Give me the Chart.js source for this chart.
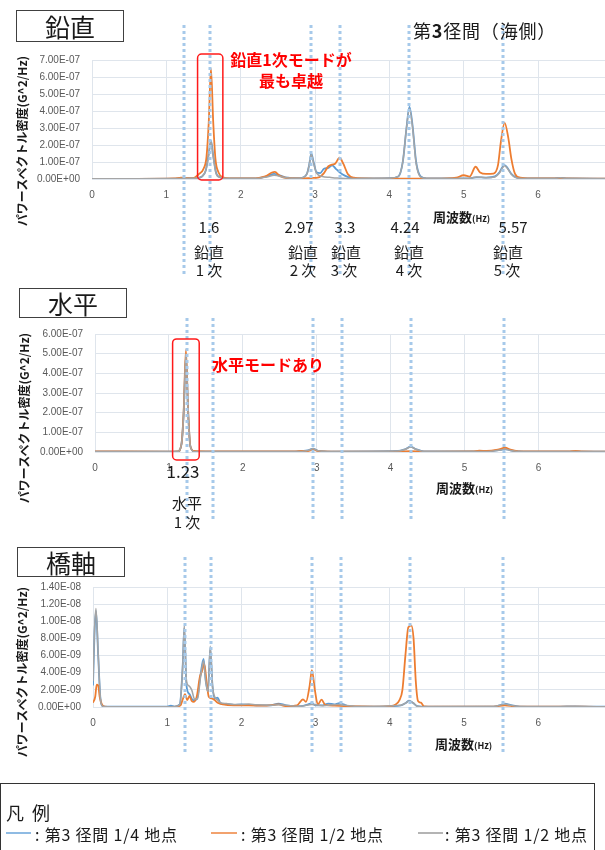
<!DOCTYPE html>
<html><head><meta charset="utf-8">
<script src="https://cdn.jsdelivr.net/npm/chart.js@4.4.0/dist/chart.umd.min.js"></script>
<style>
body{margin:0;background:#fff;width:605px;height:850px;overflow:hidden;position:relative;font-family:"Noto Sans CJK JP","Noto Sans",sans-serif;color:#1a1a1a;}
canvas{position:absolute;left:0;}
.t{position:absolute;white-space:nowrap;line-height:1;transform:translate(-50%,-50%);}
.tl{position:absolute;white-space:nowrap;line-height:1;transform:translateY(-50%);}
.box{position:absolute;border:1.5px solid #404040;box-sizing:border-box;display:flex;align-items:center;justify-content:center;font-size:25px;background:#fff;}
.yt{position:absolute;white-space:nowrap;font-weight:bold;font-size:12px;line-height:1;transform:translate(-50%,-50%) rotate(-90deg);}
.red{color:#ff0000;font-weight:bold;font-size:16px;}
.ml{font-size:15px;}
.xt{font-weight:bold;font-size:13px;}
.xt small{font-size:9px;}
.leg{position:absolute;left:0;top:783px;width:595px;height:80px;border:1.5px solid #333;box-sizing:border-box;}
.ln{position:absolute;height:2px;}
.lt{font-size:16px;letter-spacing:0.8px;}
</style></head><body>

<canvas id="c1" width="605" height="285" style="top:0px"></canvas>
<canvas id="c2" width="605" height="260" style="top:285px"></canvas>
<canvas id="c3" width="605" height="240" style="top:545px"></canvas>

<!-- panel titles -->
<div class="box" style="left:16px;top:10px;width:108px;height:32px;">鉛直</div>
<div class="box" style="left:19px;top:288px;width:108px;height:30px;">水平</div>
<div class="box" style="left:17px;top:547px;width:108px;height:30px;">橋軸</div>
<div class="tl" style="left:413px;top:30px;font-size:18px;letter-spacing:0.8px;">第<b>3</b>径間（海側）</div>

<!-- y-axis titles -->
<div class="yt" style="left:22px;top:141px;">パワースペクトル密度(G^2/Hz)</div>
<div class="yt" style="left:24px;top:418px;">パワースペクトル密度(G^2/Hz)</div>
<div class="yt" style="left:22px;top:672px;">パワースペクトル密度(G^2/Hz)</div>

<!-- x-axis titles -->
<div class="tl xt" style="left:433px;top:216px;">周波数<small>(Hz)</small></div>
<div class="tl xt" style="left:436px;top:487px;">周波数<small>(Hz)</small></div>
<div class="tl xt" style="left:435px;top:743px;">周波数<small>(Hz)</small></div>

<!-- red annotations -->
<div class="t red" style="left:291px;top:59px;">鉛直1次モードが</div>
<div class="t red" style="left:291px;top:80px;">最も卓越</div>
<div class="t red" style="left:268px;top:364px;">水平モードあり</div>

<!-- mode labels: vertical -->
<div class="t ml" style="left:209px;top:226px;">1.6</div>
<div class="t ml" style="left:299px;top:226px;">2.97</div>
<div class="t ml" style="left:345px;top:226px;">3.3</div>
<div class="t ml" style="left:405px;top:226px;">4.24</div>
<div class="t ml" style="left:513px;top:226px;">5.57</div>
<div class="t ml" style="left:209px;top:251px;">鉛直</div>
<div class="t ml" style="left:303px;top:251px;">鉛直</div>
<div class="t ml" style="left:346px;top:251px;">鉛直</div>
<div class="t ml" style="left:409px;top:251px;">鉛直</div>
<div class="t ml" style="left:508px;top:251px;">鉛直</div>
<div class="t ml" style="left:209px;top:269px;">1 次</div>
<div class="t ml" style="left:303px;top:269px;">2 次</div>
<div class="t ml" style="left:344px;top:269px;">3 次</div>
<div class="t ml" style="left:409px;top:269px;">4 次</div>
<div class="t ml" style="left:507px;top:269px;">5 次</div>
<!-- mode labels: horizontal -->
<div class="t" style="left:183px;top:470px;font-size:17px;">1.23</div>
<div class="t ml" style="left:187px;top:502px;">水平</div>
<div class="t ml" style="left:187px;top:521px;">1 次</div>

<!-- legend -->
<div class="leg"></div>
<div class="tl" style="left:6px;top:812px;font-size:18px;letter-spacing:2px;">凡 例</div>
<div class="ln" style="left:6px;top:832px;width:25px;background:#8fbbe3;"></div>
<div class="tl lt" style="left:35px;top:834px;">: 第3 径間 1/4 地点</div>
<div class="ln" style="left:211px;top:832px;width:26px;background:#f2a26e;"></div>
<div class="tl lt" style="left:241px;top:834px;">: 第3 径間 1/2 地点</div>
<div class="ln" style="left:418px;top:832px;width:25px;background:#b4b4b4;"></div>
<div class="tl lt" style="left:445px;top:834px;">: 第3 径間 1/2 地点</div>

<script>
// ---------- data ----------
const seriesNames = ['第3径間 1/4地点', '第3径間 1/2地点', '第3径間 1/2地点'];
const modeLineFreq = [1.24, 1.59, 2.95, 3.34, 4.27, 5.53];   // dotted mode lines (Hz)
const xTickLabels = [0, 1, 2, 3, 4, 5, 6];

// 鉛直 (unit 1e-7 G^2/Hz)
const vUnit = 1e-7;
const vBlueF = [0,0.6,1.1,1.25,1.4,1.48,1.53,1.57,1.60,1.63,1.67,1.72,1.8,2.2,2.35,2.45,2.6,2.8,2.89,2.92,2.95,2.98,3.02,3.07,3.12,3.18,3.23,3.28,3.33,3.4,3.5,3.7,4.0,4.12,4.18,4.23,4.27,4.31,4.36,4.42,4.5,4.9,5.1,5.17,5.3,5.42,5.48,5.52,5.55,5.59,5.64,5.7,5.8,6.2,6.3,6.4,6.9];
const vBlueV = [0.01,0.01,0.02,0.05,0.05,0.15,0.5,1.5,2.25,1.4,0.35,0.1,0.03,0.03,0.15,0.3,0.1,0.05,0.3,0.8,1.5,1.0,0.4,0.35,0.6,0.65,0.8,0.6,0.4,0.2,0.05,0.03,0.05,0.15,1.0,3.0,4.25,3.2,1.0,0.15,0.03,0.03,0.05,0.1,0.08,0.15,0.4,0.7,0.82,0.65,0.3,0.1,0.03,0.03,0.06,0.03,0.02];
const vOrangeF = [0,0.6,1.1,1.2,1.28,1.36,1.44,1.5,1.54,1.57,1.60,1.63,1.66,1.7,1.76,1.85,2.2,2.33,2.42,2.46,2.52,2.62,2.8,2.95,3.05,3.12,3.18,3.23,3.27,3.33,3.38,3.44,3.52,3.65,4.0,4.3,4.6,4.9,5.0,5.08,5.16,5.22,5.3,5.4,5.46,5.5,5.55,5.6,5.64,5.69,5.76,5.9,6.3,6.9];
const vOrangeV = [0.01,0.01,0.03,0.08,0.06,0.05,0.3,0.6,1.3,3.3,6.5,3.4,1.2,0.4,0.1,0.04,0.04,0.15,0.38,0.42,0.2,0.06,0.04,0.06,0.1,0.35,0.75,0.85,0.9,1.25,0.9,0.3,0.08,0.03,0.02,0.02,0.02,0.08,0.22,0.14,0.72,0.38,0.3,0.32,0.8,2.2,3.3,2.4,1.2,0.3,0.08,0.03,0.03,0.02];
const vGreyF = [0,0.6,1.1,1.25,1.4,1.48,1.53,1.57,1.60,1.63,1.67,1.72,1.8,2.2,2.35,2.45,2.6,2.8,2.89,2.92,2.95,2.98,3.02,3.1,3.2,3.3,3.5,3.7,4.0,4.12,4.18,4.23,4.27,4.31,4.36,4.42,4.5,4.9,5.1,5.17,5.3,5.42,5.48,5.52,5.55,5.59,5.64,5.7,5.8,6.2,6.3,6.4,6.9];
const vGreyV = [0.01,0.01,0.02,0.04,0.05,0.15,0.5,1.4,2.2,1.3,0.3,0.1,0.03,0.03,0.12,0.22,0.08,0.05,0.3,0.8,1.45,0.95,0.35,0.15,0.1,0.06,0.03,0.03,0.05,0.15,1.0,3.0,4.15,3.1,0.9,0.12,0.03,0.03,0.05,0.12,0.08,0.12,0.35,0.65,0.78,0.6,0.28,0.08,0.03,0.03,0.07,0.03,0.02];

// 水平 (unit 1e-7 G^2/Hz)
const hUnit = 1e-7;
const hBlueF = [0,1.0,1.12,1.17,1.2,1.23,1.26,1.29,1.34,1.5,2.7,2.88,2.95,3.02,3.2,4.1,4.2,4.27,4.34,4.45,5.3,5.48,5.55,5.62,5.8,6.9];
const hBlueV = [0.02,0.02,0.03,0.4,2.0,4.9,2.0,0.3,0.03,0.02,0.02,0.08,0.17,0.06,0.02,0.05,0.15,0.27,0.15,0.03,0.03,0.1,0.15,0.08,0.02,0.02];
const hOrangeF = [0,1.0,1.12,1.17,1.2,1.23,1.26,1.29,1.34,1.5,2.7,2.8,2.88,2.95,3.02,3.2,4.1,4.27,4.45,5.1,5.2,5.3,5.45,5.55,5.62,5.75,6.4,6.5,6.6,6.9];
const hOrangeV = [0.03,0.02,0.03,0.4,2.1,5.2,2.1,0.3,0.05,0.03,0.03,0.06,0.05,0.12,0.05,0.02,0.02,0.04,0.02,0.03,0.07,0.05,0.12,0.22,0.12,0.03,0.03,0.06,0.03,0.02];
const hGreyF = [0,1.0,1.12,1.17,1.2,1.23,1.26,1.29,1.34,1.5,2.7,2.88,2.95,3.02,3.2,4.1,4.2,4.27,4.34,4.45,5.3,5.48,5.55,5.62,5.8,6.9];
const hGreyV = [0.02,0.02,0.03,0.4,2.0,5.0,2.0,0.3,0.03,0.02,0.02,0.08,0.16,0.06,0.02,0.05,0.14,0.25,0.14,0.03,0.03,0.1,0.14,0.08,0.02,0.02];

// 橋軸 (unit 1e-9 G^2/Hz)
const aUnit = 1e-9;
const aBlueF = [0,0.02,0.04,0.07,0.1,0.13,0.2,1.0,1.05,1.1,1.17,1.21,1.23,1.26,1.3,1.35,1.4,1.45,1.49,1.52,1.55,1.58,1.61,1.64,1.68,1.72,1.8,1.9,2.0,2.2,2.4,2.5,2.6,2.8,2.9,2.95,3.0,3.1,3.17,3.25,3.32,3.38,3.45,3.8,4.15,4.22,4.26,4.31,4.37,4.5,5.4,5.5,5.55,5.62,5.75,6.0,6.3,6.5,6.9];
const aBlueV = [2.5,8.5,11.2,6.0,1.0,0.1,0.03,0.05,0.15,0.05,0.3,5.0,9.2,2.5,1.5,0.8,0.9,3.8,5.6,3.0,1.8,6.8,2.5,1.0,1.1,0.4,0.35,0.25,0.3,0.2,0.2,0.4,0.2,0.1,0.3,0.45,0.2,0.2,0.4,0.3,0.45,0.3,0.05,0.03,0.2,0.5,0.75,0.5,0.1,0.03,0.05,0.25,0.4,0.25,0.05,0.03,0.05,0.08,0.03];
const aOrangeF = [0,0.03,0.05,0.07,0.09,0.12,0.16,0.25,1.1,1.18,1.21,1.24,1.27,1.3,1.33,1.36,1.4,1.44,1.47,1.5,1.53,1.56,1.6,1.64,1.68,1.75,1.9,2.1,2.3,2.5,2.6,2.75,2.83,2.87,2.92,2.95,2.99,3.03,3.08,3.13,3.25,3.4,3.8,4.0,4.08,4.13,4.17,4.21,4.25,4.29,4.32,4.35,4.38,4.42,4.46,4.6,5.4,5.55,5.7,6.0,6.6,6.9];
const aOrangeV = [0.5,1.2,2.6,2.5,1.2,0.3,0.05,0.02,0.02,0.2,0.9,1.5,0.8,1.3,0.7,0.6,1.3,3.5,4.2,5.0,3.0,1.2,1.0,0.8,0.5,0.3,0.2,0.2,0.15,0.3,0.1,0.2,0.9,0.6,2.5,4.3,2.0,0.3,0.85,0.25,0.15,0.1,0.05,0.1,0.3,0.8,2.0,6.0,9.3,9.5,8.0,3.0,0.7,0.5,0.08,0.03,0.05,0.2,0.05,0.03,0.03,0.02];
const aGreyF = [0,0.02,0.04,0.07,0.1,0.13,0.2,1.0,1.1,1.17,1.21,1.23,1.26,1.29,1.33,1.37,1.41,1.45,1.49,1.52,1.55,1.58,1.61,1.64,1.68,1.72,1.8,1.9,2.0,2.1,2.2,2.4,2.5,2.6,2.8,2.95,3.1,3.3,3.4,3.6,4.15,4.22,4.26,4.31,4.37,4.5,5.4,5.5,5.55,5.62,5.75,6.0,6.5,6.9];
const aGreyV = [3.0,9.0,11.5,6.2,1.0,0.1,0.03,0.03,0.05,0.3,5.0,9.5,3.0,2.5,2.0,0.9,1.0,3.5,5.4,3.0,1.8,7.1,2.5,1.2,0.8,0.5,0.4,0.3,0.3,0.35,0.25,0.2,0.25,0.2,0.1,0.3,0.15,0.3,0.2,0.05,0.2,0.5,0.7,0.5,0.1,0.03,0.05,0.25,0.35,0.2,0.05,0.03,0.05,0.03];

// ---------- helpers ----------
const COLORS = ['#5b9bd5', '#ed7d31', '#a5a5a5'];
function pts(f, v) { return f.map((x, i) => ({ x: x, y: v[i] })); }
function sci(v) {
  if (Math.abs(v) < 1e-30) return '0.00E+00';
  let e = Math.floor(Math.log10(Math.abs(v)) + 1e-9);
  let m = v / Math.pow(10, e);
  if (Math.abs(m) >= 9.995) { m /= 10; e++; }
  const ae = Math.abs(e);
  return m.toFixed(2) + 'E' + (e < 0 ? '-' : '+') + (ae < 10 ? '0' : '') + ae;
}

const overlay = {
  id: 'overlay',
  afterDatasetsDraw(chart, args, o) {
    const ctx = chart.ctx, xs = chart.scales.x, ys = chart.scales.y;
    ctx.save();
    ctx.strokeStyle = '#a6c9ea';
    ctx.lineWidth = 3;
    ctx.setLineDash([3, 3]);
    for (const f of modeLineFreq) {
      const x = Math.round(xs.getPixelForValue(f));
      ctx.beginPath(); ctx.moveTo(x, o.lineTop); ctx.lineTo(x, o.lineBottom); ctx.stroke();
    }
    ctx.setLineDash([]);
    if (o.box) {
      const b = o.box;
      const x1 = xs.getPixelForValue(b.from), x2 = xs.getPixelForValue(b.to);
      const y1 = ys.getPixelForValue(b.top), y2 = chart.chartArea.bottom + b.below;
      ctx.strokeStyle = '#ff1a1a'; ctx.lineWidth = 1.5;
      ctx.beginPath(); ctx.roundRect(x1, y1, x2 - x1, y2 - y1, 4); ctx.stroke();
    }
    ctx.restore();
  }
};

function makeChart(id, s, unit, yMax, yStep, cfg) {
  const ds = s.map((d, i) => ({
    label: seriesNames[i],
    data: pts(d[0], d[1]),
    borderColor: COLORS[i],
    borderWidth: i === 2 ? 1.5 : 1.8,
    pointRadius: 0,
    fill: false,
    cubicInterpolationMode: 'monotone',
    order: 3 - i
  }));
  return new Chart(document.getElementById(id), {
    type: 'line',
    data: { datasets: ds },
    plugins: [overlay],
    options: {
      responsive: false, animation: false, events: [],
      layout: { padding: { top: cfg.top, bottom: cfg.bottom, left: 0, right: 0 } },
      plugins: { legend: { display: false }, tooltip: { enabled: false }, overlay: cfg.overlay },
      scales: {
        x: {
          type: 'linear', min: 0, max: 6.9,
          afterFit(sc) { sc.height = 25; },
          afterBuildTicks(sc) { sc.ticks = xTickLabels.map(v => ({ value: v })); },
          ticks: { includeBounds: false, padding: 10, color: '#595959', font: { family: 'Liberation Sans', size: 10 }, callback: v => String(v) },
          grid: { color: '#dfe5ec', drawTicks: false, lineWidth: 1 },
          border: { color: '#dfe5ec' }
        },
        y: {
          min: 0, max: yMax,
          afterFit(sc) { sc.width = cfg.left; },
          ticks: { stepSize: yStep, padding: 12, color: '#595959', font: { family: 'Liberation Sans', size: 10 }, callback: v => sci(v * unit) },
          grid: { color: '#dfe5ec', drawTicks: false, lineWidth: 1 },
          border: { color: '#dfe5ec' }
        }
      }
    }
  });
}

makeChart('c1', [[vBlueF, vBlueV], [vOrangeF, vOrangeV], [vGreyF, vGreyV]], vUnit, 7, 1,
  { top: 60, bottom: 81, left: 92, overlay: { lineTop: 25, lineBottom: 276, box: { from: 1.42, to: 1.76, top: 7.35, below: 1 } } });
makeChart('c2', [[hBlueF, hBlueV], [hOrangeF, hOrangeV], [hGreyF, hGreyV]], hUnit, 6, 1,
  { top: 49, bottom: 68, left: 95, overlay: { lineTop: 33, lineBottom: 235, box: { from: 1.05, to: 1.41, top: 5.75, below: 8 } } });
makeChart('c3', [[aBlueF, aBlueV], [aOrangeF, aOrangeV], [aGreyF, aGreyV]], aUnit, 14, 2,
  { top: 42, bottom: 53, left: 93, overlay: { lineTop: 12, lineBottom: 208, box: null } });
</script>
</body></html>
